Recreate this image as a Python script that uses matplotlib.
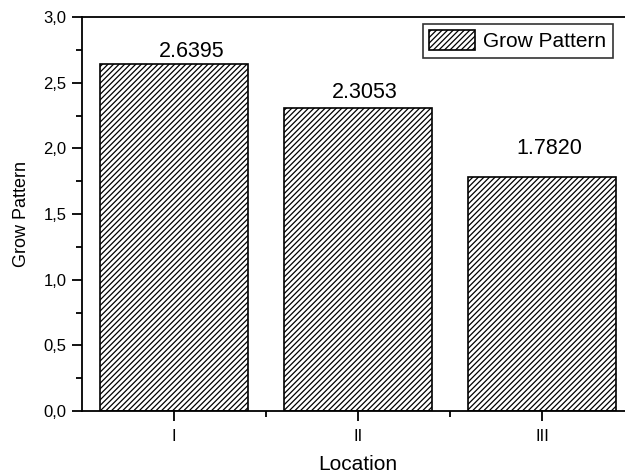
import matplotlib
matplotlib.use("Agg")
import matplotlib.pyplot as plt
from matplotlib.ticker import MultipleLocator, FuncFormatter, FixedLocator

categories = ["I", "II", "III"]
values = [2.6395, 2.3053, 1.7820]
value_labels = ["2.6395", "2.3053", "1.7820"]

# label placement offsets (pixels from bar top centre) - layout only
label_dx = [18, 7, 7]
label_dy = [7, 10, 23]

plt.rcParams['font.family'] = ['Liberation Sans', 'DejaVu Sans']
plt.rcParams['hatch.linewidth'] = 0.9

fig = plt.figure(figsize=(6.25, 4.74), dpi=100)
ax = fig.add_axes([82/625, 1 - 411/474, 552/625, 394/474])

x = list(range(1, len(categories) + 1))
bars = ax.bar(x, values, width=0.8, color='white', edgecolor='black',
              linewidth=1.2, hatch='//////', label='Grow Pattern')

for xi, v, lab, dx, dy in zip(x, values, value_labels, label_dx, label_dy):
    ax.annotate(lab, xy=(xi, v), xytext=(dx, dy), textcoords='offset pixels',
                ha='center', va='baseline', fontsize=15.5)

ax.set_xlim(0.5, 3.5)
ax.set_ylim(0, 3.0)
ax.set_xticks(x)
ax.set_xticklabels(categories)
ax.xaxis.set_minor_locator(FixedLocator([1.5, 2.5]))
ax.yaxis.set_major_locator(MultipleLocator(0.5))
ax.yaxis.set_minor_locator(MultipleLocator(0.25))
ax.yaxis.set_major_formatter(FuncFormatter(lambda v, p: f"{v:.1f}".replace('.', ',')))

ax.tick_params(axis='both', which='major', direction='out', length=7, width=1.3, labelsize=12)
ax.tick_params(axis='both', which='minor', direction='out', length=4, width=1.3)
ax.tick_params(axis='x', pad=6)
ax.tick_params(axis='y', pad=4)
for s in ax.spines.values():
    s.set_linewidth(1.3)

ax.set_xlabel('Location', fontsize=15, labelpad=8)
ax.set_ylabel('Grow Pattern', fontsize=13, labelpad=10)

leg = ax.legend(loc='upper left', bbox_to_anchor=((423 - 82) / 552, 1 - 7 / 394),
                fontsize=15, frameon=True, fancybox=False, edgecolor='black',
                borderpad=0.3, handlelength=2.2, handleheight=1.1, handletextpad=0.4,
                borderaxespad=0)
leg.get_frame().set_linewidth(1.2)

fig.savefig('out.png', dpi=100)
